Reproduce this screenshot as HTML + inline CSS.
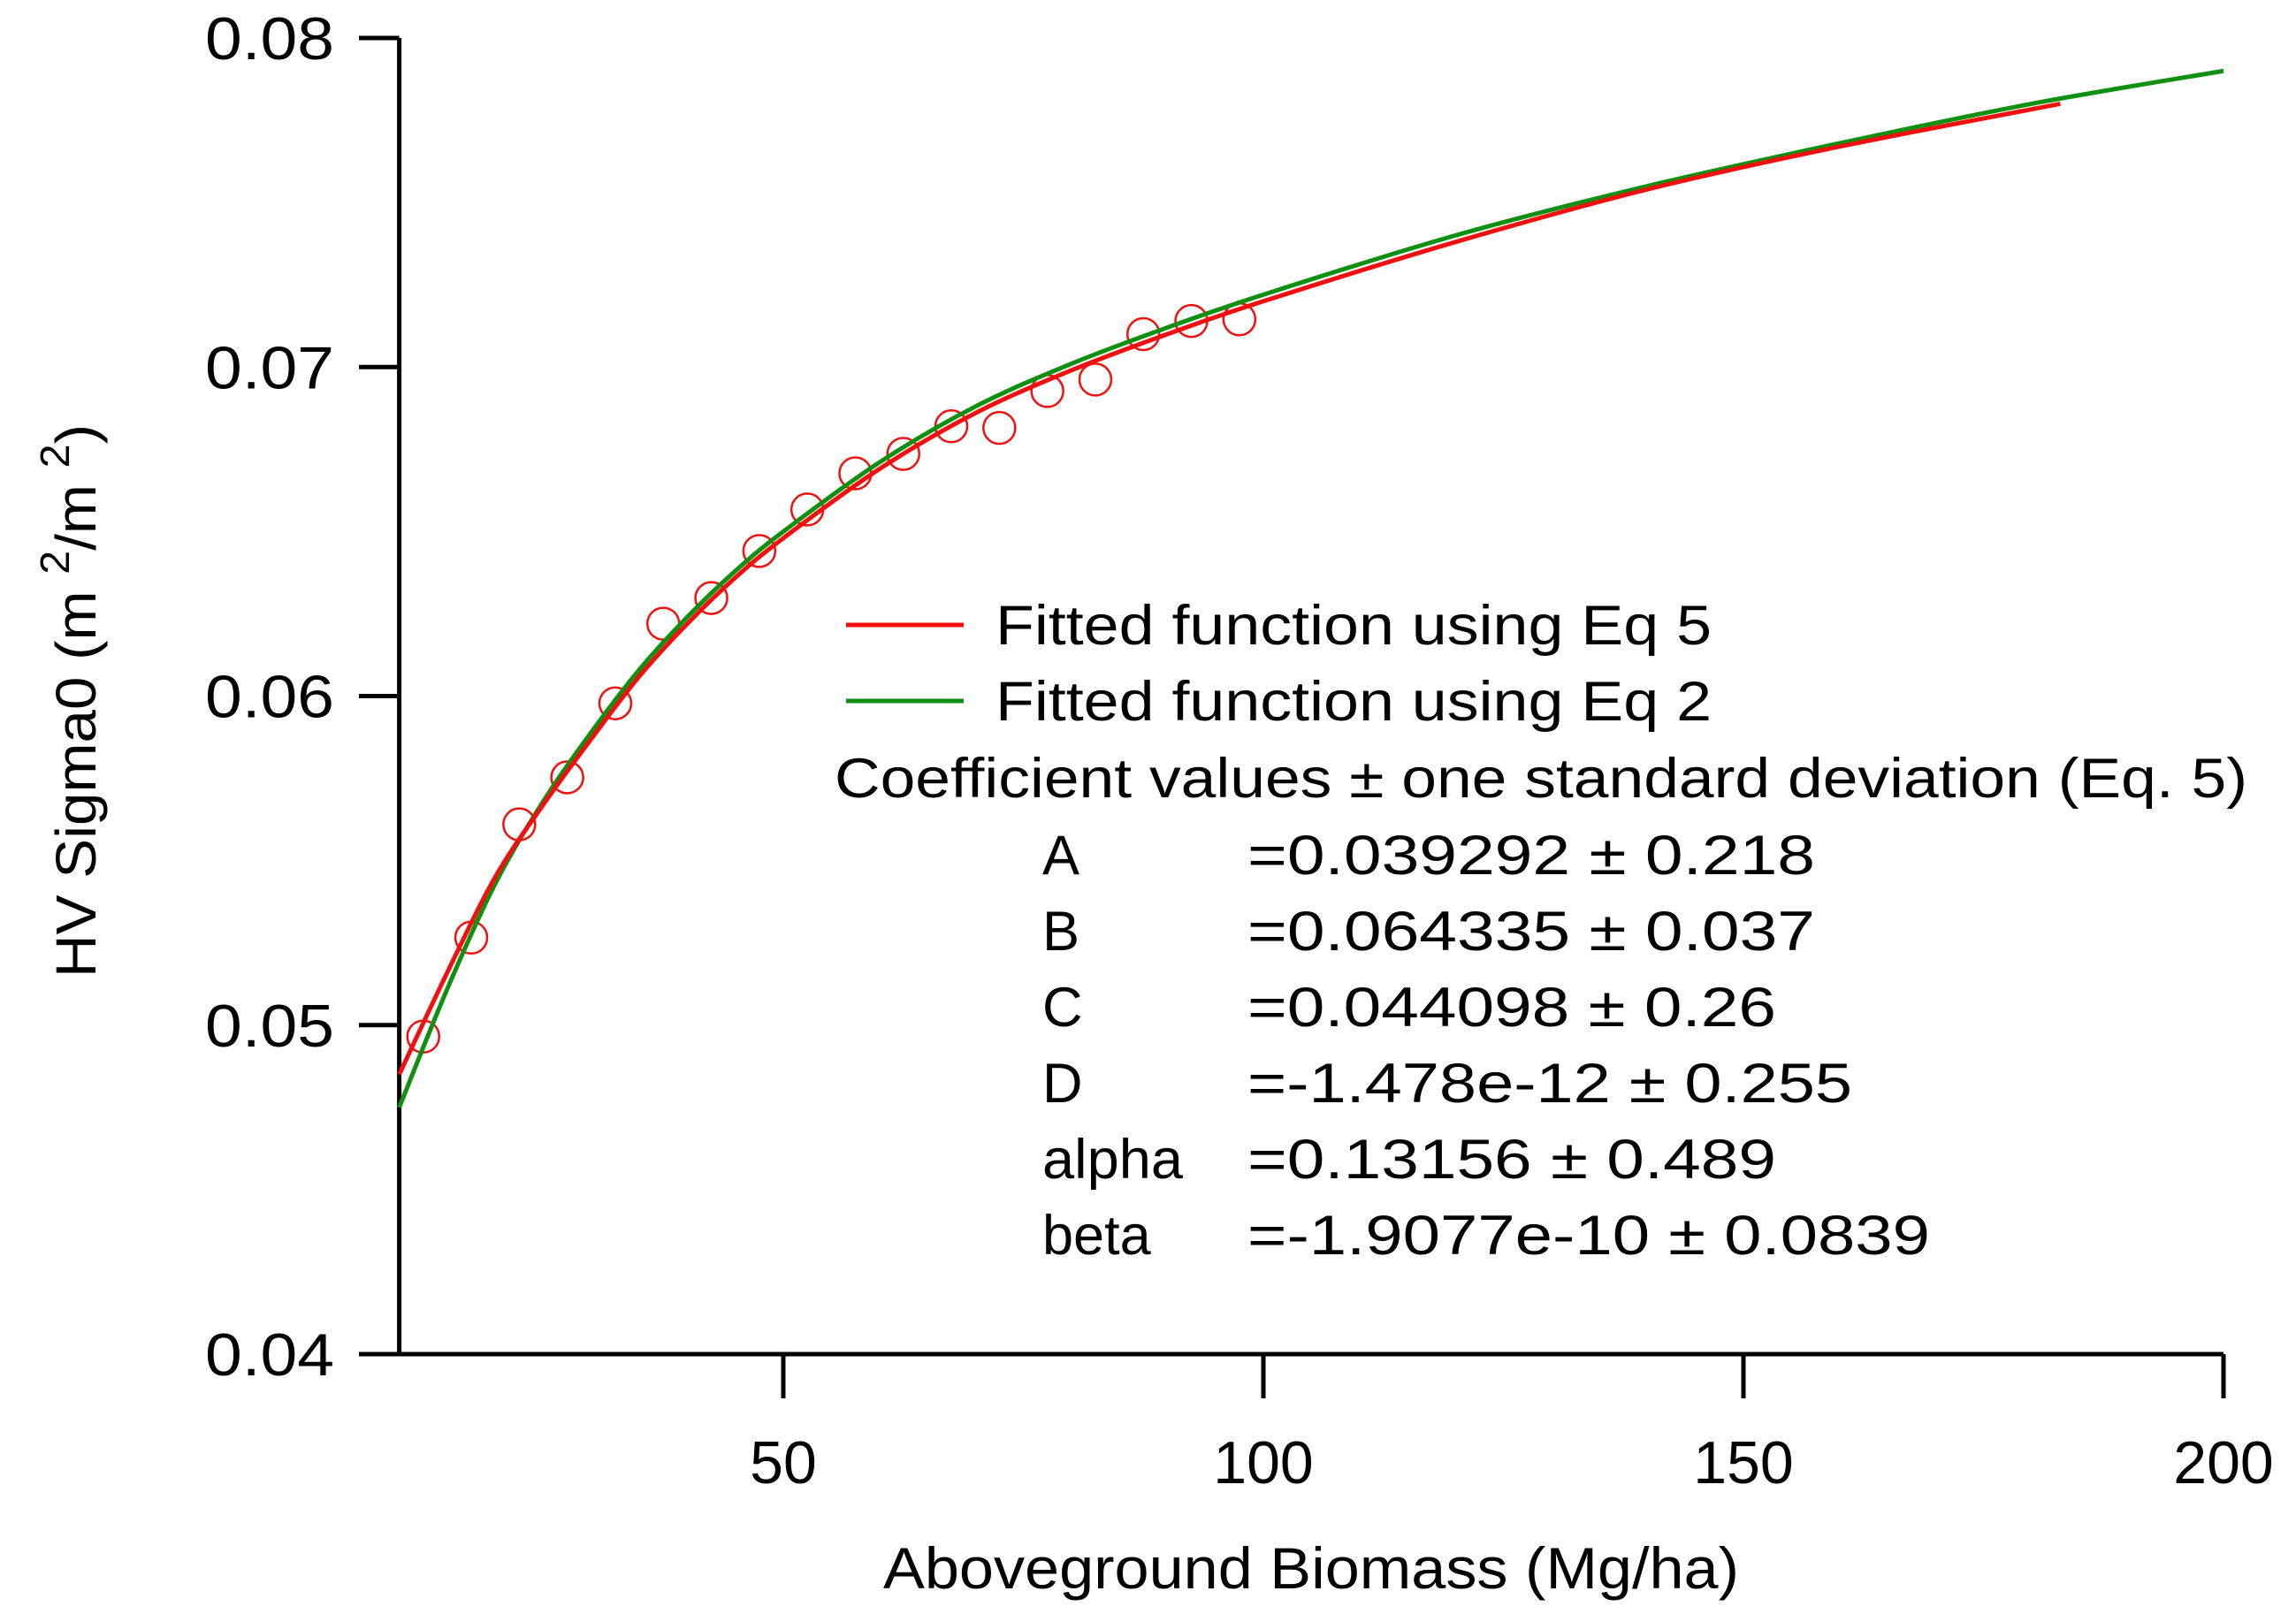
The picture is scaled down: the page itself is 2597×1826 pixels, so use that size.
<!DOCTYPE html>
<html><head><meta charset="utf-8"><style>
html,body{margin:0;padding:0;background:#fff;}
svg{display:block;font-family:"Liberation Sans",sans-serif;}
</style></head><body>
<svg id="chart" width="2597" height="1826" viewBox="0 0 2597 1826" xmlns="http://www.w3.org/2000/svg">
<g id="axes"></g>
<g id="series"></g>
<g id="legend">
  <line x1="957" y1="707" x2="1090" y2="707" stroke="#f01010" stroke-width="5"/>
  <text x="1126" y="729" font-size="63" textLength="810" lengthAdjust="spacingAndGlyphs">Fitted function using Eq 5</text>
  <line x1="957" y1="793" x2="1090" y2="793" stroke="#109010" stroke-width="5"/>
  <text x="1126" y="815" font-size="63" textLength="810" lengthAdjust="spacingAndGlyphs">Fitted function using Eq 2</text>
  <text x="944" y="902" font-size="63" textLength="1598" lengthAdjust="spacingAndGlyphs">Coefficient values ± one standard deviation (Eq. 5)</text>
</g>
<g id="coefs"></g>
</svg>
<script>
const NS='http://www.w3.org/2000/svg';
const xTicks=[50,100,150,200];
const yTicks=[0.04,0.05,0.06,0.07,0.08];
const yTickLabels=['0.04','0.05','0.06','0.07','0.08'];
const pointX=[12.5,17.5,22.5,27.5,32.5,37.5,42.5,47.5,52.5,57.5,62.5,67.5,72.5,77.5,82.5,87.5,92.5,97.5];
const pointY=[0.04965,0.05266,0.0561,0.05753,0.05978,0.0622,0.06298,0.06441,0.06567,0.06677,0.06736,0.0682,0.06815,0.06927,0.06962,0.071,0.0714,0.07145];
const redX=[10,15,20,25,30,35,40,45,50,60,70,80,90,100,120,140,160,183];
const redY=[0.0485,0.0516,0.0545,0.0567,0.0587,0.0606,0.0622,0.0636,0.0648,0.0669,0.0686,0.0699,0.0710,0.0720,0.0738,0.0754,0.0767,0.0780];
const greenX=[10,15,20,25,30,35,40,45,50,60,70,80,90,100,120,140,160,180,200];
const greenY=[0.0475,0.0511,0.0543,0.0568,0.0589,0.0608,0.0624,0.0638,0.0650,0.0671,0.0688,0.0701,0.0712,0.0722,0.0740,0.0755,0.0768,0.0780,0.0790];
const coefNames=['A','B','C','D','alpha','beta'];
const coefValues=['=0.039292 ± 0.218','=0.064335 ± 0.037','=0.044098 ± 0.26','=-1.478e-12 ± 0.255','=0.13156 ± 0.489','=-1.9077e-10 ± 0.0839'];
const coefWidths=[642,642,598,684,598,772];

const X0=10;
const xs=v=>343+(v)*(2515-343)/200;
const ys=v=>1532-(v-0.04)*(1532-43)/0.04;
function mk(t,a,p){const e=document.createElementNS(NS,t);for(const k in a)e.setAttribute(k,a[k]);p.appendChild(e);return e;}
const axes=document.getElementById('axes');
let ya=mk('path',{d:`M${xs(X0)},${ys(0.08)} V${ys(0.04)} H${xs(200)}`,fill:'none',stroke:'#000','stroke-width':5},axes);


yTicks.forEach((v,i)=>{
  const l=mk('line',{x1:406,x2:xs(X0),y1:ys(v),y2:ys(v),stroke:'#000','stroke-width':5},axes);
  
  
  const t=mk('text',{x:232,y:ys(v)+24,'font-size':68,textLength:146,lengthAdjust:'spacingAndGlyphs'},axes);
  
  
  t.textContent=yTickLabels[i];
});
xTicks.forEach(v=>{
  const l=mk('line',{x1:xs(v),x2:xs(v),y1:ys(0.04),y2:1582,stroke:'#000','stroke-width':5},axes);
  
  
  const t=mk('text',{x:xs(v),y:1678,'font-size':68,'text-anchor':'middle'},axes);
  
  
  t.textContent=String(v);
});
const xt=mk('text',{x:1483,y:1797,'font-size':66,'text-anchor':'middle',textLength:968,lengthAdjust:'spacingAndGlyphs'},axes);


xt.textContent='Aboveground Biomass (Mg/ha)';
const yt=mk('text',{x:0,y:0,'font-size':64,'text-anchor':'middle',textLength:626,lengthAdjust:'spacingAndGlyphs',transform:'translate(108,793) rotate(-90)'},axes);


yt.innerHTML='HV Sigma0 (m <tspan dy="-30" font-size="46">2</tspan><tspan dy="30">/m </tspan><tspan dy="-30" font-size="46">2</tspan><tspan dy="30">)</tspan>';

function curve(X,Y){
  const p=X.map((x,i)=>[xs(x),ys(Y[i])]);
  let d=`M${p[0][0]},${p[0][1]}`;
  for(let i=0;i<p.length-1;i++){
    const a=p[i-1]||p[i],b=p[i],c=p[i+1],e=p[i+2]||c;
    d+=` C${b[0]+(c[0]-a[0])/6},${b[1]+(c[1]-a[1])/6} ${c[0]-(e[0]-b[0])/6},${c[1]-(e[1]-b[1])/6} ${c[0]},${c[1]}`;
  }
  return d;
}
const ser=document.getElementById('series');
pointX.forEach((x,i)=>{
  const c=mk('circle',{cx:xs(x),cy:ys(pointY[i]),r:18,fill:'none',stroke:'#f01010','stroke-width':2.5},ser);
  
  
});
const g=mk('path',{d:curve(greenX,greenY),fill:'none',stroke:'#109010','stroke-width':5},ser);


const r=mk('path',{d:curve(redX,redY),fill:'none',stroke:'#f01010','stroke-width':5},ser);



const cg=document.getElementById('coefs');
coefNames.forEach((n,i)=>{
  const y=989+i*86;
  const a=mk('text',{x:1179,y:y,'font-size':63},cg);
  if(n==='alpha'){a.setAttribute('textLength',159);a.setAttribute('lengthAdjust','spacingAndGlyphs');}
  
  
  a.textContent=n;
  const b=mk('text',{x:1411,y:y,'font-size':63,textLength:coefWidths[i],lengthAdjust:'spacingAndGlyphs'},cg);
  
  
  b.textContent=coefValues[i];
});
</script>
</body></html>
